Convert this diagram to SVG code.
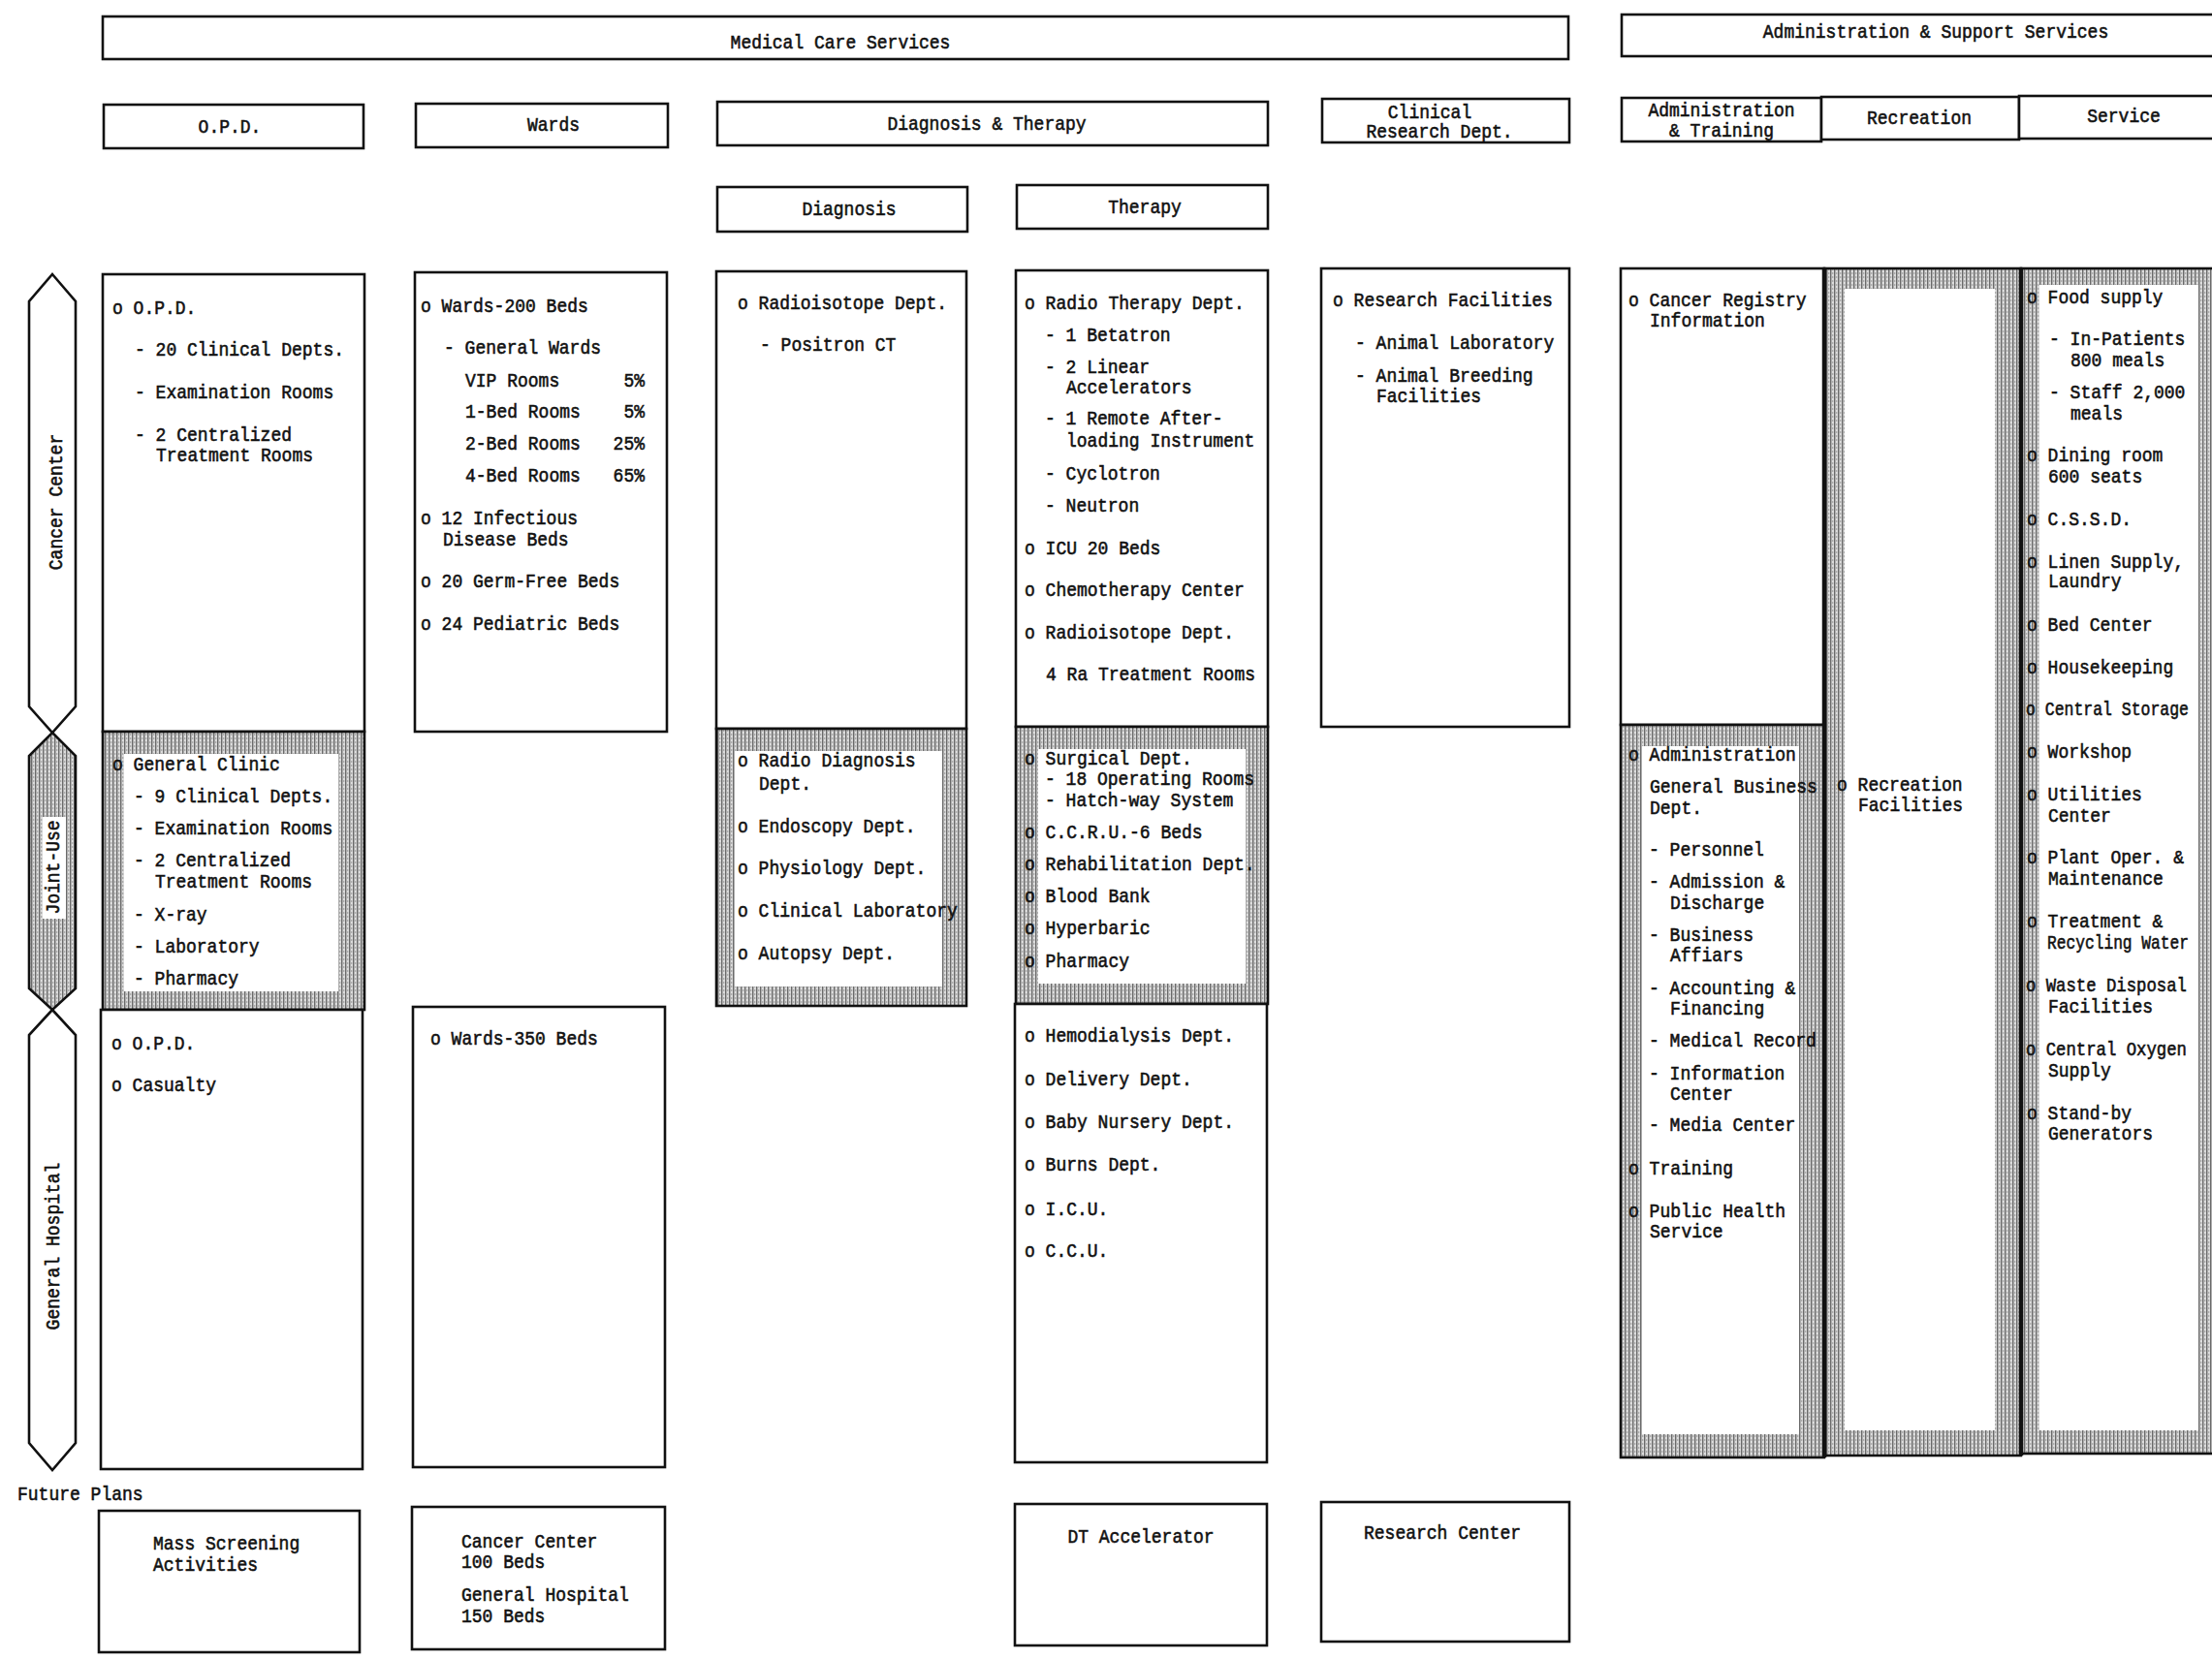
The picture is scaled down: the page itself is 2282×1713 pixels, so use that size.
<svg xmlns="http://www.w3.org/2000/svg" width="2282" height="1713" viewBox="0 0 2282 1713">
<style>
.b{fill:#fff;stroke:#111;stroke-width:2.6}
.h{fill:url(#sh);stroke:#111;stroke-width:2.6}
.w{fill:#fff;stroke:none}
text{font-family:"Liberation Mono","DejaVu Sans Mono",monospace;font-size:21px;fill:#111;stroke:#111;stroke-width:0.6}
.m{text-anchor:middle}
.e{text-anchor:end}
</style>
<defs>
<pattern id="sh" width="4" height="4" patternUnits="userSpaceOnUse">
<rect width="4" height="4" fill="#dcdcdc"/>
<rect x="0" y="0" width="1.4" height="4" fill="#6a6a6a"/>
<rect x="2.4" y="1" width="0.8" height="2" fill="#8c8c8c"/>
</pattern>
</defs>
<rect width="2282" height="1713" fill="#fff"/>

<g id="hdr-medical"><rect class="b" x="106" y="17" width="1512" height="44"/><text class="m" x="867" y="50" textLength="226.8" lengthAdjust="spacingAndGlyphs">Medical Care Services</text></g>
<g id="hdr-admin-support"><rect class="b" x="1673" y="15" width="640" height="43"/><text class="m" x="1997" y="39" textLength="356.4" lengthAdjust="spacingAndGlyphs">Administration &amp; Support Services</text></g>

<g id="hdr-opd"><rect class="b" x="107" y="108" width="268" height="45"/><text class="m" x="237" y="137" textLength="64.8" lengthAdjust="spacingAndGlyphs">O.P.D.</text></g>
<g id="hdr-wards"><rect class="b" x="429" y="107" width="260" height="45"/><text class="m" x="571" y="135" textLength="54" lengthAdjust="spacingAndGlyphs">Wards</text></g>
<g id="hdr-dt"><rect class="b" x="740" y="105" width="568" height="45"/><text class="m" x="1018" y="134" textLength="205.2" lengthAdjust="spacingAndGlyphs">Diagnosis &amp; Therapy</text></g>
<g id="hdr-clinical"><rect class="b" x="1364" y="102" width="255" height="45"/><text class="m" x="1475" y="122" textLength="86.4" lengthAdjust="spacingAndGlyphs">Clinical</text><text class="m" x="1485" y="142" textLength="151.2" lengthAdjust="spacingAndGlyphs">Research Dept.</text></g>
<g id="hdr-admtrain"><rect class="b" x="1673" y="101" width="206" height="45"/><text class="m" x="1776" y="120" textLength="151.2" lengthAdjust="spacingAndGlyphs">Administration</text><text class="m" x="1776" y="141" textLength="108" lengthAdjust="spacingAndGlyphs">&amp; Training</text></g>
<g id="hdr-recreation"><rect class="b" x="1879" y="100" width="204" height="44"/><text class="m" x="1980" y="128" textLength="108" lengthAdjust="spacingAndGlyphs">Recreation</text></g>
<g id="hdr-service"><rect class="b" x="2083" y="99" width="230" height="44"/><text class="m" x="2191" y="126" textLength="75.6" lengthAdjust="spacingAndGlyphs">Service</text></g>
<g id="hdr-diagnosis"><rect class="b" x="740" y="193" width="258" height="46"/><text class="m" x="876" y="222" textLength="97.2" lengthAdjust="spacingAndGlyphs">Diagnosis</text></g>
<g id="hdr-therapy"><rect class="b" x="1049" y="191" width="259" height="45"/><text class="m" x="1181" y="220" textLength="75.6" lengthAdjust="spacingAndGlyphs">Therapy</text></g>

<g id="lbl-cancer"><polygon points="54,283 78,311 78,729 54,756 30,729 30,311" fill="#fff" stroke="#111" stroke-width="2.6"/><text class="m" transform="translate(64,518) rotate(-90)" textLength="140.4" lengthAdjust="spacingAndGlyphs">Cancer Center</text></g>
<g id="lbl-joint"><polygon points="54,756 78,780 78,1020 54,1042 30,1020 30,780" fill="url(#sh)" stroke="#111" stroke-width="2.6"/><rect class="w" x="44" y="843" width="24" height="105"/><text class="m" transform="translate(61,895) rotate(-90)" textLength="97.2" lengthAdjust="spacingAndGlyphs">Joint-Use</text></g>
<g id="lbl-general"><polygon points="54,1042 78,1068 78,1489 54,1517 30,1489 30,1068" fill="#fff" stroke="#111" stroke-width="2.6"/><text class="m" transform="translate(61,1286) rotate(-90)" textLength="172.8" lengthAdjust="spacingAndGlyphs">General Hospital</text></g>

<g id="opd-cancer"><rect class="b" x="106" y="283" width="270" height="472"/>
<text x="116" y="324" textLength="86.4" lengthAdjust="spacingAndGlyphs">o O.P.D.</text>
<text x="139" y="367" textLength="216" lengthAdjust="spacingAndGlyphs">- 20 Clinical Depts.</text>
<text x="139" y="411" textLength="205.2" lengthAdjust="spacingAndGlyphs">- Examination Rooms</text>
<text x="139" y="455" textLength="162" lengthAdjust="spacingAndGlyphs">- 2 Centralized</text>
<text x="161" y="476" textLength="162" lengthAdjust="spacingAndGlyphs">Treatment Rooms</text>
</g>
<g id="opd-joint"><rect class="h" x="106" y="755" width="270" height="287"/><rect class="w" x="128" y="778" width="221" height="245"/>
<text x="116" y="795" textLength="172.8" lengthAdjust="spacingAndGlyphs">o General Clinic</text>
<text x="138" y="828" textLength="205.2" lengthAdjust="spacingAndGlyphs">- 9 Clinical Depts.</text>
<text x="138" y="861" textLength="205.2" lengthAdjust="spacingAndGlyphs">- Examination Rooms</text>
<text x="138" y="894" textLength="162" lengthAdjust="spacingAndGlyphs">- 2 Centralized</text>
<text x="160" y="916" textLength="162" lengthAdjust="spacingAndGlyphs">Treatment Rooms</text>
<text x="138" y="950" textLength="75.6" lengthAdjust="spacingAndGlyphs">- X-ray</text>
<text x="138" y="983" textLength="129.6" lengthAdjust="spacingAndGlyphs">- Laboratory</text>
<text x="138" y="1016" textLength="108" lengthAdjust="spacingAndGlyphs">- Pharmacy</text>
</g>
<g id="opd-general"><rect class="b" x="104" y="1042" width="270" height="474"/>
<text x="115" y="1083" textLength="86.4" lengthAdjust="spacingAndGlyphs">o O.P.D.</text>
<text x="115" y="1126" textLength="108" lengthAdjust="spacingAndGlyphs">o Casualty</text>
</g>

<g id="wards-cancer"><rect class="b" x="428" y="281" width="260" height="474"/>
<text x="434" y="322" textLength="172.8" lengthAdjust="spacingAndGlyphs">o Wards-200 Beds</text>
<text x="458" y="365" textLength="162" lengthAdjust="spacingAndGlyphs">- General Wards</text>
<text x="480" y="399" textLength="97.2" lengthAdjust="spacingAndGlyphs">VIP Rooms</text><text class="e" x="665" y="399" textLength="21.6" lengthAdjust="spacingAndGlyphs">5%</text>
<text x="480" y="431" textLength="118.8" lengthAdjust="spacingAndGlyphs">1-Bed Rooms</text><text class="e" x="665" y="431" textLength="21.6" lengthAdjust="spacingAndGlyphs">5%</text>
<text x="480" y="464" textLength="118.8" lengthAdjust="spacingAndGlyphs">2-Bed Rooms</text><text class="e" x="665" y="464" textLength="32.4" lengthAdjust="spacingAndGlyphs">25%</text>
<text x="480" y="497" textLength="118.8" lengthAdjust="spacingAndGlyphs">4-Bed Rooms</text><text class="e" x="665" y="497" textLength="32.4" lengthAdjust="spacingAndGlyphs">65%</text>
<text x="434" y="541" textLength="162" lengthAdjust="spacingAndGlyphs">o 12 Infectious</text>
<text x="457" y="563" textLength="129.6" lengthAdjust="spacingAndGlyphs">Disease Beds</text>
<text x="434" y="606" textLength="205.2" lengthAdjust="spacingAndGlyphs">o 20 Germ-Free Beds</text>
<text x="434" y="650" textLength="205.2" lengthAdjust="spacingAndGlyphs">o 24 Pediatric Beds</text>
</g>
<g id="wards-general"><rect class="b" x="426" y="1039" width="260" height="475"/>
<text x="444" y="1078" textLength="172.8" lengthAdjust="spacingAndGlyphs">o Wards-350 Beds</text>
</g>

<g id="diag-cancer"><rect class="b" x="739" y="280" width="258" height="472"/>
<text x="761" y="319" textLength="216" lengthAdjust="spacingAndGlyphs">o Radioisotope Dept.</text>
<text x="784" y="362" textLength="140.4" lengthAdjust="spacingAndGlyphs">- Positron CT</text>
</g>
<g id="diag-joint"><rect class="h" x="739" y="752" width="258" height="286"/><rect class="w" x="758" y="775" width="214" height="243"/>
<text x="761" y="791" textLength="183.6" lengthAdjust="spacingAndGlyphs">o Radio Diagnosis</text>
<text x="783" y="815" textLength="54" lengthAdjust="spacingAndGlyphs">Dept.</text>
<text x="761" y="859" textLength="183.6" lengthAdjust="spacingAndGlyphs">o Endoscopy Dept.</text>
<text x="761" y="902" textLength="194.4" lengthAdjust="spacingAndGlyphs">o Physiology Dept.</text>
<text x="761" y="946" textLength="226.8" lengthAdjust="spacingAndGlyphs">o Clinical Laboratory</text>
<text x="761" y="990" textLength="162" lengthAdjust="spacingAndGlyphs">o Autopsy Dept.</text>
</g>

<g id="ther-cancer"><rect class="b" x="1048" y="279" width="260" height="471"/>
<text x="1057" y="319" textLength="226.8" lengthAdjust="spacingAndGlyphs">o Radio Therapy Dept.</text>
<text x="1078" y="352" textLength="129.6" lengthAdjust="spacingAndGlyphs">- 1 Betatron</text>
<text x="1078" y="385" textLength="108" lengthAdjust="spacingAndGlyphs">- 2 Linear</text>
<text x="1100" y="406" textLength="129.6" lengthAdjust="spacingAndGlyphs">Accelerators</text>
<text x="1078" y="438" textLength="183.6" lengthAdjust="spacingAndGlyphs">- 1 Remote After-</text>
<text x="1100" y="461" textLength="194.4" lengthAdjust="spacingAndGlyphs">loading Instrument</text>
<text x="1078" y="495" textLength="118.8" lengthAdjust="spacingAndGlyphs">- Cyclotron</text>
<text x="1078" y="528" textLength="97.2" lengthAdjust="spacingAndGlyphs">- Neutron</text>
<text x="1057" y="572" textLength="140.4" lengthAdjust="spacingAndGlyphs">o ICU 20 Beds</text>
<text x="1057" y="615" textLength="226.8" lengthAdjust="spacingAndGlyphs">o Chemotherapy Center</text>
<text x="1057" y="659" textLength="216" lengthAdjust="spacingAndGlyphs">o Radioisotope Dept.</text>
<text x="1079" y="702" textLength="216" lengthAdjust="spacingAndGlyphs">4 Ra Treatment Rooms</text>
</g>
<g id="ther-joint"><rect class="h" x="1048" y="750" width="260" height="286"/><rect class="w" x="1071" y="773" width="214" height="242"/>
<text x="1057" y="789" textLength="172.8" lengthAdjust="spacingAndGlyphs">o Surgical Dept.</text>
<text x="1078" y="810" textLength="216" lengthAdjust="spacingAndGlyphs">- 18 Operating Rooms</text>
<text x="1078" y="832" textLength="194.4" lengthAdjust="spacingAndGlyphs">- Hatch-way System</text>
<text x="1057" y="865" textLength="183.6" lengthAdjust="spacingAndGlyphs">o C.C.R.U.-6 Beds</text>
<text x="1057" y="898" textLength="237.6" lengthAdjust="spacingAndGlyphs">o Rehabilitation Dept.</text>
<text x="1057" y="931" textLength="129.6" lengthAdjust="spacingAndGlyphs">o Blood Bank</text>
<text x="1057" y="964" textLength="129.6" lengthAdjust="spacingAndGlyphs">o Hyperbaric</text>
<text x="1057" y="998" textLength="108" lengthAdjust="spacingAndGlyphs">o Pharmacy</text>
</g>
<g id="ther-general"><rect class="b" x="1047" y="1036" width="260" height="473"/>
<text x="1057" y="1075" textLength="216" lengthAdjust="spacingAndGlyphs">o Hemodialysis Dept.</text>
<text x="1057" y="1120" textLength="172.8" lengthAdjust="spacingAndGlyphs">o Delivery Dept.</text>
<text x="1057" y="1164" textLength="216" lengthAdjust="spacingAndGlyphs">o Baby Nursery Dept.</text>
<text x="1057" y="1208" textLength="140.4" lengthAdjust="spacingAndGlyphs">o Burns Dept.</text>
<text x="1057" y="1254" textLength="86.4" lengthAdjust="spacingAndGlyphs">o I.C.U.</text>
<text x="1057" y="1297" textLength="86.4" lengthAdjust="spacingAndGlyphs">o C.C.U.</text>
</g>

<g id="research-cancer"><rect class="b" x="1363" y="277" width="256" height="473"/>
<text x="1375" y="316" textLength="226.8" lengthAdjust="spacingAndGlyphs">o Research Facilities</text>
<text x="1398" y="360" textLength="205.2" lengthAdjust="spacingAndGlyphs">- Animal Laboratory</text>
<text x="1398" y="394" textLength="183.6" lengthAdjust="spacingAndGlyphs">- Animal Breeding</text>
<text x="1420" y="415" textLength="108" lengthAdjust="spacingAndGlyphs">Facilities</text>
</g>

<g id="admin-cancer"><rect class="b" x="1672" y="277" width="210" height="471"/>
<text x="1680" y="316" textLength="183.6" lengthAdjust="spacingAndGlyphs">o Cancer Registry</text>
<text x="1702" y="337" textLength="118.8" lengthAdjust="spacingAndGlyphs">Information</text>
</g>
<g id="admin-joint"><rect class="h" x="1672" y="748" width="210" height="756"/><rect class="w" x="1694" y="770" width="162" height="710"/>
<text x="1680" y="785" textLength="172.8" lengthAdjust="spacingAndGlyphs">o Administration</text>
<text x="1702" y="818" textLength="172.8" lengthAdjust="spacingAndGlyphs">General Business</text>
<text x="1702" y="840" textLength="54" lengthAdjust="spacingAndGlyphs">Dept.</text>
<text x="1701" y="883" textLength="118.8" lengthAdjust="spacingAndGlyphs">- Personnel</text>
<text x="1701" y="916" textLength="140.4" lengthAdjust="spacingAndGlyphs">- Admission &amp;</text>
<text x="1723" y="938" textLength="97.2" lengthAdjust="spacingAndGlyphs">Discharge</text>
<text x="1701" y="971" textLength="108" lengthAdjust="spacingAndGlyphs">- Business</text>
<text x="1723" y="992" textLength="75.6" lengthAdjust="spacingAndGlyphs">Affiars</text>
<text x="1701" y="1026" textLength="151.2" lengthAdjust="spacingAndGlyphs">- Accounting &amp;</text>
<text x="1723" y="1047" textLength="97.2" lengthAdjust="spacingAndGlyphs">Financing</text>
<text x="1701" y="1080" textLength="172.8" lengthAdjust="spacingAndGlyphs">- Medical Record</text>
<text x="1701" y="1114" textLength="140.4" lengthAdjust="spacingAndGlyphs">- Information</text>
<text x="1723" y="1135" textLength="64.8" lengthAdjust="spacingAndGlyphs">Center</text>
<text x="1701" y="1167" textLength="151.2" lengthAdjust="spacingAndGlyphs">- Media Center</text>
<text x="1680" y="1212" textLength="108" lengthAdjust="spacingAndGlyphs">o Training</text>
<text x="1680" y="1256" textLength="162" lengthAdjust="spacingAndGlyphs">o Public Health</text>
<text x="1702" y="1277" textLength="75.6" lengthAdjust="spacingAndGlyphs">Service</text>
</g>

<g id="recreation"><rect class="h" x="1882" y="277" width="203" height="1225"/><rect class="w" x="1903" y="298" width="155" height="1178"/>
<text x="1895" y="816" textLength="129.6" lengthAdjust="spacingAndGlyphs">o Recreation</text>
<text x="1917" y="837" textLength="108" lengthAdjust="spacingAndGlyphs">Facilities</text>
</g>

<g id="service"><rect class="h" x="2085" y="277" width="230" height="1223"/><rect class="w" x="2104" y="294" width="164" height="1182"/>
<text x="2091" y="313" textLength="140.4" lengthAdjust="spacingAndGlyphs">o Food supply</text>
<text x="2114" y="356" textLength="140.4" lengthAdjust="spacingAndGlyphs">- In-Patients</text>
<text x="2136" y="378" textLength="97.2" lengthAdjust="spacingAndGlyphs">800 meals</text>
<text x="2114" y="411" textLength="140.4" lengthAdjust="spacingAndGlyphs">- Staff 2,000</text>
<text x="2136" y="433" textLength="54" lengthAdjust="spacingAndGlyphs">meals</text>
<text x="2091" y="476" textLength="140.4" lengthAdjust="spacingAndGlyphs">o Dining room</text>
<text x="2113" y="498" textLength="97.2" lengthAdjust="spacingAndGlyphs">600 seats</text>
<text x="2091" y="542" textLength="108" lengthAdjust="spacingAndGlyphs">o C.S.S.D.</text>
<text x="2091" y="586" textLength="162" lengthAdjust="spacingAndGlyphs">o Linen Supply,</text>
<text x="2113" y="606" textLength="75.6" lengthAdjust="spacingAndGlyphs">Laundry</text>
<text x="2091" y="651" textLength="129.6" lengthAdjust="spacingAndGlyphs">o Bed Center</text>
<text x="2091" y="695" textLength="151.2" lengthAdjust="spacingAndGlyphs">o Housekeeping</text>
<text x="2090" y="738" textLength="168" lengthAdjust="spacingAndGlyphs">o Central Storage</text>
<text x="2091" y="782" textLength="108" lengthAdjust="spacingAndGlyphs">o Workshop</text>
<text x="2091" y="826" textLength="118.8" lengthAdjust="spacingAndGlyphs">o Utilities</text>
<text x="2113" y="848" textLength="64.8" lengthAdjust="spacingAndGlyphs">Center</text>
<text x="2091" y="891" textLength="162" lengthAdjust="spacingAndGlyphs">o Plant Oper. &amp;</text>
<text x="2113" y="913" textLength="118.8" lengthAdjust="spacingAndGlyphs">Maintenance</text>
<text x="2091" y="957" textLength="140.4" lengthAdjust="spacingAndGlyphs">o Treatment &amp;</text>
<text x="2112" y="979" textLength="146" lengthAdjust="spacingAndGlyphs">Recycling Water</text>
<text x="2090" y="1023" textLength="166" lengthAdjust="spacingAndGlyphs">o Waste Disposal</text>
<text x="2113" y="1045" textLength="108" lengthAdjust="spacingAndGlyphs">Facilities</text>
<text x="2090" y="1089" textLength="166" lengthAdjust="spacingAndGlyphs">o Central Oxygen</text>
<text x="2113" y="1111" textLength="64.8" lengthAdjust="spacingAndGlyphs">Supply</text>
<text x="2091" y="1155" textLength="108" lengthAdjust="spacingAndGlyphs">o Stand-by</text>
<text x="2113" y="1176" textLength="108" lengthAdjust="spacingAndGlyphs">Generators</text>
</g>
<g id="block-dividers"><line x1="1882" y1="277" x2="1882" y2="1504" stroke="#111" stroke-width="4.5"/><line x1="2085" y1="277" x2="2085" y2="1502" stroke="#111" stroke-width="4.5"/></g>

<g id="future-label"><text x="18" y="1548" textLength="129.6" lengthAdjust="spacingAndGlyphs">Future Plans</text></g>
<g id="future-opd"><rect class="b" x="102" y="1559" width="269" height="146"/>
<text x="158" y="1599" textLength="151.2" lengthAdjust="spacingAndGlyphs">Mass Screening</text>
<text x="158" y="1621" textLength="108" lengthAdjust="spacingAndGlyphs">Activities</text>
</g>
<g id="future-wards"><rect class="b" x="425" y="1555" width="261" height="147"/>
<text x="476" y="1597" textLength="140.4" lengthAdjust="spacingAndGlyphs">Cancer Center</text>
<text x="476" y="1618" textLength="86.4" lengthAdjust="spacingAndGlyphs">100 Beds</text>
<text x="476" y="1652" textLength="172.8" lengthAdjust="spacingAndGlyphs">General Hospital</text>
<text x="476" y="1674" textLength="86.4" lengthAdjust="spacingAndGlyphs">150 Beds</text>
</g>
<g id="future-therapy"><rect class="b" x="1047" y="1552" width="260" height="146"/>
<text class="m" x="1177" y="1592" textLength="151.2" lengthAdjust="spacingAndGlyphs">DT Accelerator</text>
</g>
<g id="future-research"><rect class="b" x="1363" y="1550" width="256" height="144"/>
<text x="1407" y="1588" textLength="162" lengthAdjust="spacingAndGlyphs">Research Center</text>
</g>
<g id="connectors"></g>
</svg>
